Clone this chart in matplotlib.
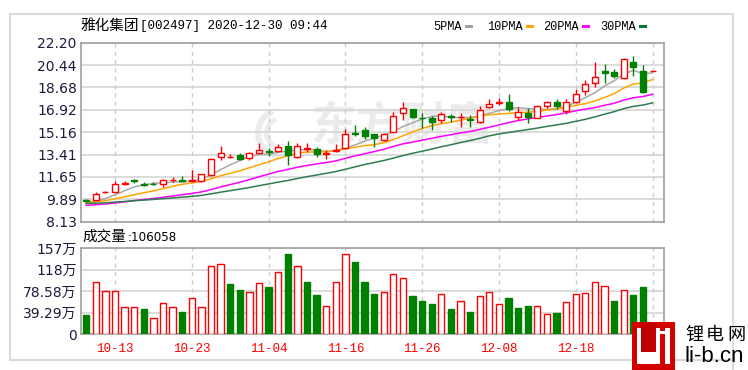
import matplotlib

matplotlib.use("Agg")
import matplotlib.pyplot as plt
from matplotlib.patches import Rectangle, Wedge
from matplotlib.lines import Line2D
from matplotlib.transforms import Affine2D

plt.rcParams["font.family"] = ["DejaVu Sans", "Noto Sans CJK SC"]

# ---- data (2020-09-30 .. 2020-12-30) ----
opens = [9.85, 9.85, 10.45, 10.50, 11.10, 11.40, 11.10, 11.12, 11.10, 11.38,
         11.40, 11.30, 11.30, 11.80, 13.20, 13.20, 13.40, 13.10, 13.55, 13.65,
         13.70, 14.05, 13.20, 13.85, 13.85, 13.45, 13.70, 13.90, 15.10, 15.35,
         15.00, 14.55, 15.20, 16.70, 16.95, 16.30, 16.30, 16.10, 16.40, 16.33,
         16.20, 15.95, 17.15, 17.45, 17.55, 16.35, 16.65, 16.30, 17.20, 17.55,
         16.80, 17.50, 18.40, 19.00, 19.95, 19.90, 19.40, 20.70, 20.00, 20.00]
highs = [9.92, 10.50, 10.55, 11.35, 11.30, 11.50, 11.25, 11.22, 11.45, 11.65,
         11.75, 12.20, 11.90, 13.10, 14.10, 13.45, 13.55, 13.60, 14.35, 13.90,
         14.20, 14.50, 14.35, 14.30, 14.00, 13.75, 14.25, 15.40, 15.70, 15.55,
         15.05, 15.10, 16.75, 17.50, 17.00, 16.70, 16.40, 16.75, 16.60, 16.70,
         16.50, 17.25, 17.80, 17.85, 18.20, 17.15, 17.05, 17.25, 17.65, 17.75,
         17.80, 18.55, 19.25, 20.70, 20.55, 20.10, 21.00, 21.15, 20.45, 20.00]
lows = [9.70, 9.80, 10.40, 10.45, 11.05, 11.20, 10.95, 11.05, 10.85, 11.25,
        11.30, 11.25, 11.25, 11.75, 12.95, 13.10, 13.00, 12.95, 13.50, 13.30,
        13.60, 12.60, 13.10, 13.60, 13.20, 13.05, 13.60, 13.85, 14.90, 14.65,
        14.00, 14.45, 15.15, 16.15, 16.25, 15.50, 15.35, 15.85, 16.00, 15.60,
        15.60, 15.85, 17.10, 17.30, 16.85, 16.10, 15.92, 16.25, 17.05, 17.00,
        16.60, 17.45, 18.10, 18.70, 19.05, 19.40, 19.35, 19.60, 18.25, 20.00]
closes = [9.75, 10.32, 10.50, 11.08, 11.15, 11.30, 11.05, 11.10, 11.40, 11.42,
          11.35, 11.38, 11.85, 13.05, 13.50, 13.25, 13.05, 13.50, 13.80, 13.60,
          14.00, 13.40, 14.05, 13.90, 13.45, 13.50, 13.80, 15.05, 15.02, 14.90,
          14.70, 15.00, 16.40, 17.05, 16.35, 16.25, 16.00, 16.60, 16.35, 16.38,
          16.15, 16.90, 17.40, 17.50, 17.00, 16.75, 16.38, 17.20, 17.50, 17.20,
          17.55, 18.20, 18.95, 19.50, 19.80, 19.60, 20.90, 20.30, 18.30, 20.00]
prev_close_first = 9.85

ma5 = [9.63, 9.77, 9.95, 10.25, 10.56, 10.87, 11.02, 11.14, 11.20, 11.25,
       11.26, 11.32, 11.47, 11.80, 12.22, 12.60, 12.94, 13.27, 13.42, 13.44,
       13.59, 13.66, 13.77, 13.79, 13.76, 13.66, 13.74, 13.94, 14.16, 14.45,
       14.70, 14.94, 15.21, 15.61, 15.90, 16.21, 16.41, 16.45, 16.31, 16.32,
       16.30, 16.48, 16.64, 16.87, 16.99, 17.11, 17.01, 16.97, 16.97, 17.01,
       17.17, 17.53, 17.88, 18.28, 18.80, 19.21, 19.75, 20.02, 19.78, 19.82]
ma10 = [9.62, 9.69, 9.78, 9.93, 10.08, 10.25, 10.40, 10.55, 10.73, 10.91,
        11.07, 11.17, 11.31, 11.50, 11.74, 11.93, 12.13, 12.37, 12.61, 12.83,
        13.10, 13.30, 13.52, 13.61, 13.60, 13.62, 13.70, 13.85, 13.98, 14.11,
        14.18, 14.34, 14.58, 14.89, 15.18, 15.46, 15.68, 15.84, 15.96, 16.11,
        16.25, 16.44, 16.54, 16.59, 16.65, 16.70, 16.74, 16.80, 16.91, 17.00,
        17.14, 17.27, 17.42, 17.62, 17.90, 18.19, 18.64, 18.95, 19.03, 19.31]
ma20 = [9.42, 9.46, 9.52, 9.60, 9.69, 9.79, 9.87, 9.95, 10.05, 10.15,
        10.25, 10.35, 10.47, 10.65, 10.86, 11.05, 11.23, 11.44, 11.66, 11.87,
        12.08, 12.24, 12.41, 12.55, 12.67, 12.78, 12.91, 13.11, 13.30, 13.47,
        13.64, 13.82, 14.05, 14.25, 14.39, 14.54, 14.69, 14.84, 14.97, 15.11,
        15.22, 15.39, 15.56, 15.74, 15.92, 16.08, 16.21, 16.32, 16.44, 16.55,
        16.69, 16.85, 16.98, 17.10, 17.28, 17.44, 17.69, 17.87, 17.97, 18.15]
ma30 = [9.56, 9.58, 9.61, 9.67, 9.72, 9.78, 9.83, 9.88, 9.94, 10.00,
        10.06, 10.12, 10.20, 10.32, 10.45, 10.57, 10.69, 10.82, 10.96, 11.10,
        11.24, 11.37, 11.52, 11.67, 11.80, 11.93, 12.07, 12.25, 12.44, 12.62,
        12.78, 12.94, 13.13, 13.33, 13.51, 13.67, 13.84, 14.02, 14.18, 14.35,
        14.51, 14.69, 14.88, 15.03, 15.14, 15.26, 15.37, 15.49, 15.62, 15.74,
        15.86, 16.02, 16.18, 16.37, 16.58, 16.78, 17.02, 17.19, 17.30, 17.47]

# volume in 万
volumes = [35.3, 96.1, 79.7, 79.7, 50.4, 50.4, 45.7, 29.2, 56.6, 50.4,
           41.3, 65.8, 50.4, 125.4, 127.9, 91.4, 80.4, 77.9, 93.7, 87.0,
           114.4, 146.2, 125.4, 96.1, 71.3, 52.3, 96.1, 146.2, 132.7, 96.1,
           73.1, 77.9, 109.6, 103.4, 70.5, 61.4, 54.8, 73.1, 45.7, 61.4,
           41.3, 70.5, 77.9, 54.8, 66.9, 48.6, 51.2, 51.2, 36.5, 39.5,
           59.6, 73.1, 75.5, 96.1, 88.8, 61.4, 80.4, 71.3, 87.0, 10.6]

date_ticks = [3, 11, 19, 27, 35, 43, 51, 59]
date_labels = ["10-13", "10-23", "11-04", "11-16", "11-26", "12-08", "12-18", "12-30"]
price_ticks = [8.13, 9.89, 11.65, 13.41, 15.16, 16.92, 18.68, 20.44, 22.20]
vol_ticks = [0, 39.29, 78.58, 117.87, 157.16]
vol_labels = ["0", "39.29万", "78.58万", "118万", "157万"]

RED = "#ff0000"
GREEN = "#008000"
W, H = 748, 370


def fx(px):
    return px / W


def fy(py):
    return 1 - py / H


fig = plt.figure(figsize=(W / 100, H / 100), dpi=100)
fig.patch.set_facecolor("white")
# pixel coords, origin top-left
pix = Affine2D().scale(1 / W, -1 / H).translate(0, 1) + fig.transFigure

ax = fig.add_axes([fx(81), fy(221.7), 583 / W, 179 / H])
axv = fig.add_axes([fx(81), fy(334.3), 583 / W, 86 / H])

idx = list(range(len(closes)))

# watermark
ax.text(0.55, 0.525, "东方财富", transform=ax.transAxes, ha="center", va="center",
        fontsize=33, fontweight="bold", color="#ebebeb", family="Noto Sans CJK SC", zorder=0.5)
for r, w in [(26, 6), (17, 5)]:
    ax.add_patch(Wedge((281, 133), r, 95, 250, width=w, transform=pix,
                       facecolor="#ececec", edgecolor="none", zorder=0.5))

# candles
for i in idx:
    o, h, l, c = opens[i], highs[i], lows[i], closes[i]
    up = c >= o
    col = RED if up else GREEN
    lo, hi = min(o, c), max(o, c)
    ax.bar(i, hi - lo, width=0.62, bottom=lo, facecolor="white" if up else GREEN,
           edgecolor=col, linewidth=1, zorder=5)
    ax.vlines(i, hi, h, color=col, lw=1, zorder=4)
    ax.vlines(i, l, lo, color=col, lw=1, zorder=4)

ax.plot(idx, ma5, color="#a8a8a8", lw=1.1, zorder=3)
ax.plot(idx, ma10, color="#ffa500", lw=1.1, zorder=3)
ax.plot(idx, ma20, color="#ff00ff", lw=1.1, zorder=3)
ax.plot(idx, ma30, color="#2e7d4f", lw=1.1, zorder=3)

ax.set_xlim(-0.54, 60.19)
ax.set_ylim(price_ticks[0], price_ticks[-1])
ax.set_yticks(price_ticks)
ax.set_yticklabels([f"{t:.2f}" for t in price_ticks], fontsize=10, color="#1c1c3c")
ax.set_xticks(date_ticks)
ax.set_xticklabels([])

# volume
vol_up = [closes[i] >= (closes[i - 1] if i else prev_close_first) for i in idx]
axv.bar(idx, volumes, width=0.65,
        color=["white" if u else GREEN for u in vol_up],
        edgecolor=[RED if u else GREEN for u in vol_up], linewidth=1, zorder=3)
axv.set_xlim(-0.54, 60.19)
axv.set_ylim(0, vol_ticks[-1])
axv.set_yticks(vol_ticks)
axv.set_yticklabels(vol_labels, fontsize=10, color="#1c1c3c")
axv.set_xticks(date_ticks)
axv.set_xticklabels(date_labels, fontsize=9, color=RED, family="Liberation Mono")

for a in (ax, axv):
    a.set_facecolor("white")
    a.tick_params(length=0, pad=3)
    a.grid(True, axis="y", color="#d9d9d9", lw=1.3)
    a.grid(False, axis="x")
    for t in date_ticks:
        a.axvline(t, color="#cccccc", lw=1, ls=(0, (3, 3)), zorder=1)
    for s in a.spines.values():
        s.set_color("#a0a0a0")
        s.set_linewidth(1.2)
    a.set_axisbelow(True)
axv.tick_params(axis="x", pad=6)

# header texts
fig.text(fx(81), fy(26), "雅化集团", ha="left", va="center", fontsize=10.5, family="Noto Sans CJK SC")
fig.text(fx(140), fy(26), "[002497] 2020-12-30 09:44", ha="left", va="center",
         fontsize=9, family="Liberation Mono")

legend_items = [("5PMA", 433, "#a0a0a0"), ("10PMA", 487, "#ffa500"),
                ("20PMA", 543, "#ff00ff"), ("30PMA", 600, "#007a33")]
for name, px, col in legend_items:
    fig.text(fx(px), fy(26.5), name, ha="left", va="center", fontsize=8.6,
             family="Liberation Mono")
    end = px + 7.3 * len(name) + 3
    fig.add_artist(Rectangle((end, 24.5), 8, 3, transform=pix,
                             facecolor=col, edgecolor="none"))

fig.text(fx(82), fy(237), "成交量", ha="left", va="center", fontsize=10.5, family="Noto Sans CJK SC")
fig.text(fx(128), fy(237.5), ":106058", ha="left", va="center", fontsize=8.6)

# outer frame
fig.add_artist(Rectangle((10, 14), 723, 346, transform=pix,
                         fill=False, edgecolor="#dadada", lw=1.5))
fig.add_artist(Line2D([733, 733], [360, 370], transform=pix, color="#dadada", lw=1.5))

# li-b.cn logo
logo_parts = [((632, 322), 43, 48, "#d40000"),
              ((637, 328), 33, 36, "white"),
              ((641, 322), 15, 30, "#c00000"),
              ((660, 334), 5, 30, "#d40000"),
              ((660, 327), 5, 4, "#d40000")]
for xy, w, h, col in logo_parts:
    fig.add_artist(Rectangle(xy, w, h, transform=pix, facecolor=col, edgecolor="none", zorder=10))

for ch, px in zip("锂电网", [694, 715, 736]):
    fig.text(fx(px), fy(335), ch, ha="center", va="center", fontsize=13, family="Noto Sans CJK SC")
fig.text(fx(684), fy(357), "li-b.cn", ha="left", va="center", fontsize=16, family="Liberation Sans")

fig.savefig("out.png", dpi=100)
